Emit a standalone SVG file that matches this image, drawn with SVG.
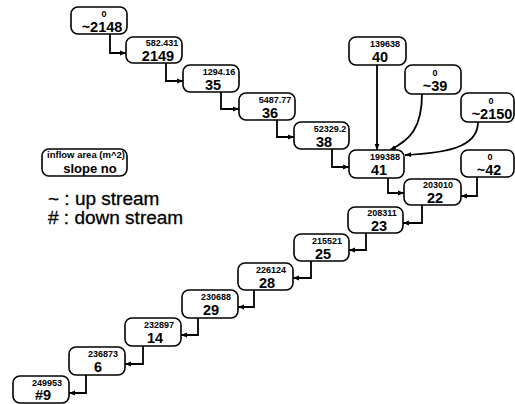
<svg xmlns="http://www.w3.org/2000/svg" width="515" height="404" viewBox="0 0 515 404">
<defs>
<style>
.box{fill:#fff;stroke:#000;stroke-width:1.6}
.s{font-family:"Liberation Sans",Arial,sans-serif;font-size:9px;font-weight:bold;text-anchor:middle;fill:#000}
.b{font-family:"Liberation Sans",Arial,sans-serif;font-size:14.5px;font-weight:bold;text-anchor:middle;fill:#000}
.c{fill:none;stroke:#000;stroke-width:1.8}
.leg{font-family:"Liberation Sans",Arial,sans-serif;font-size:19px;fill:#000;stroke:#000;stroke-width:0.3}
</style>
<marker id="ah" viewBox="0 0 10 10" refX="10" refY="5" markerWidth="6" markerHeight="6" markerUnits="userSpaceOnUse" orient="auto">
<path d="M0,1 L10,5 L0,9 z" fill="#000"/>
</marker>
</defs>
<rect width="515" height="404" fill="#fff"/>
<g id="connectors">
<path class="c" d="M110,34 V53 H126" marker-end="url(#ah)"/>
<path class="c" d="M166,63 V81 H183" marker-end="url(#ah)"/>
<path class="c" d="M221,92 V109 H239" marker-end="url(#ah)"/>
<path class="c" d="M277,120 V137 H294" marker-end="url(#ah)"/>
<path class="c" d="M332,149 V167 H349" marker-end="url(#ah)"/>
<path class="c" d="M388,178 V193 H404" marker-end="url(#ah)"/>
<path class="c" d="M377,65 V150" marker-end="url(#ah)"/>
<path class="c" d="M422,94 C422,128 410,140 390,150" marker-end="url(#ah)"/>
<path class="c" d="M478,122 C478,148 445,153 405,155" marker-end="url(#ah)"/>
<path class="c" d="M477,177 V196 H461" marker-end="url(#ah)"/>
<path class="c" d="M422,205 V223 H403" marker-end="url(#ah)"/>
<path class="c" d="M366,233 V250 H349" marker-end="url(#ah)"/>
<path class="c" d="M311,261 V278 H293" marker-end="url(#ah)"/>
<path class="c" d="M254,290 V307 H238" marker-end="url(#ah)"/>
<path class="c" d="M198,318 V335 H181" marker-end="url(#ah)"/>
<path class="c" d="M143,346 V364 H125" marker-end="url(#ah)"/>
<path class="c" d="M86,375 V393 H69" marker-end="url(#ah)"/>
</g>
<g id="n2148"><rect class="box" x="71" y="7" width="56" height="27" rx="7"/><text class="s" x="104" y="17">0</text><text class="b" x="102" y="32">~2148</text></g>
<g id="n2149"><rect class="box" x="126" y="37" width="56" height="26" rx="7"/><text class="s" x="162" y="46">582.431</text><text class="b" x="158" y="61">2149</text></g>
<g id="n35"><rect class="box" x="183" y="65" width="56" height="27" rx="7"/><text class="s" x="219" y="75">1294.16</text><text class="b" x="213" y="90">35</text></g>
<g id="n36"><rect class="box" x="239" y="93" width="56" height="27" rx="7"/><text class="s" x="275" y="103">5487.77</text><text class="b" x="270" y="118">36</text></g>
<g id="n38"><rect class="box" x="294" y="122" width="55" height="27" rx="7"/><text class="s" x="330" y="132">52329.2</text><text class="b" x="324" y="147">38</text></g>
<g id="n40"><rect class="box" x="349" y="37" width="57" height="28" rx="7"/><text class="s" x="385" y="47">139638</text><text class="b" x="380" y="62">40</text></g>
<g id="n39"><rect class="box" x="405" y="65" width="56" height="29" rx="7"/><text class="s" x="435" y="76">0</text><text class="b" x="435" y="91">~39</text></g>
<g id="n2150"><rect class="box" x="461" y="93" width="53" height="29" rx="7"/><text class="s" x="491" y="104">0</text><text class="b" x="492" y="119">~2150</text></g>
<g id="n41"><rect class="box" x="349" y="150" width="55" height="28" rx="7"/><text class="s" x="385" y="160">199388</text><text class="b" x="379" y="175">41</text></g>
<g id="n42"><rect class="box" x="461" y="150" width="53" height="27" rx="7"/><text class="s" x="490" y="160">0</text><text class="b" x="489" y="175">~42</text></g>
<g id="n22"><rect class="box" x="404" y="179" width="57" height="26" rx="7"/><text class="s" x="438" y="188">203010</text><text class="b" x="435" y="203">22</text></g>
<g id="n23"><rect class="box" x="348" y="207" width="55" height="26" rx="7"/><text class="s" x="382" y="216">208311</text><text class="b" x="379" y="231">23</text></g>
<g id="n25"><rect class="box" x="294" y="234" width="55" height="27" rx="7"/><text class="s" x="327" y="244">215521</text><text class="b" x="323" y="259">25</text></g>
<g id="n28"><rect class="box" x="238" y="263" width="55" height="27" rx="7"/><text class="s" x="271" y="273">226124</text><text class="b" x="267" y="288">28</text></g>
<g id="n29"><rect class="box" x="182" y="290" width="56" height="28" rx="7"/><text class="s" x="216" y="300">230688</text><text class="b" x="211" y="315">29</text></g>
<g id="n14"><rect class="box" x="125" y="318" width="56" height="28" rx="7"/><text class="s" x="159" y="328">232897</text><text class="b" x="155" y="343">14</text></g>
<g id="n6"><rect class="box" x="69" y="347" width="56" height="28" rx="7"/><text class="s" x="103" y="357">236873</text><text class="b" x="98" y="372">6</text></g>
<g id="n9"><rect class="box" x="13" y="376" width="56" height="27" rx="7"/><text class="s" x="47" y="386">249953</text><text class="b" x="43" y="400">#9</text></g>
<g id="legend">
<rect class="box" x="42" y="149" width="85" height="27" rx="7"/>
<text class="s" x="86" y="158" style="font-size:9.5px">inflow area (m^2)</text>
<text x="90" y="173" style="font-family:'Liberation Sans',Arial,sans-serif;font-size:13px;font-weight:bold;text-anchor:middle">slope no</text>
<text class="leg" x="48" y="205">~ : up stream</text>
<text class="leg" x="48" y="224"># : down stream</text>
</g>
</svg>
